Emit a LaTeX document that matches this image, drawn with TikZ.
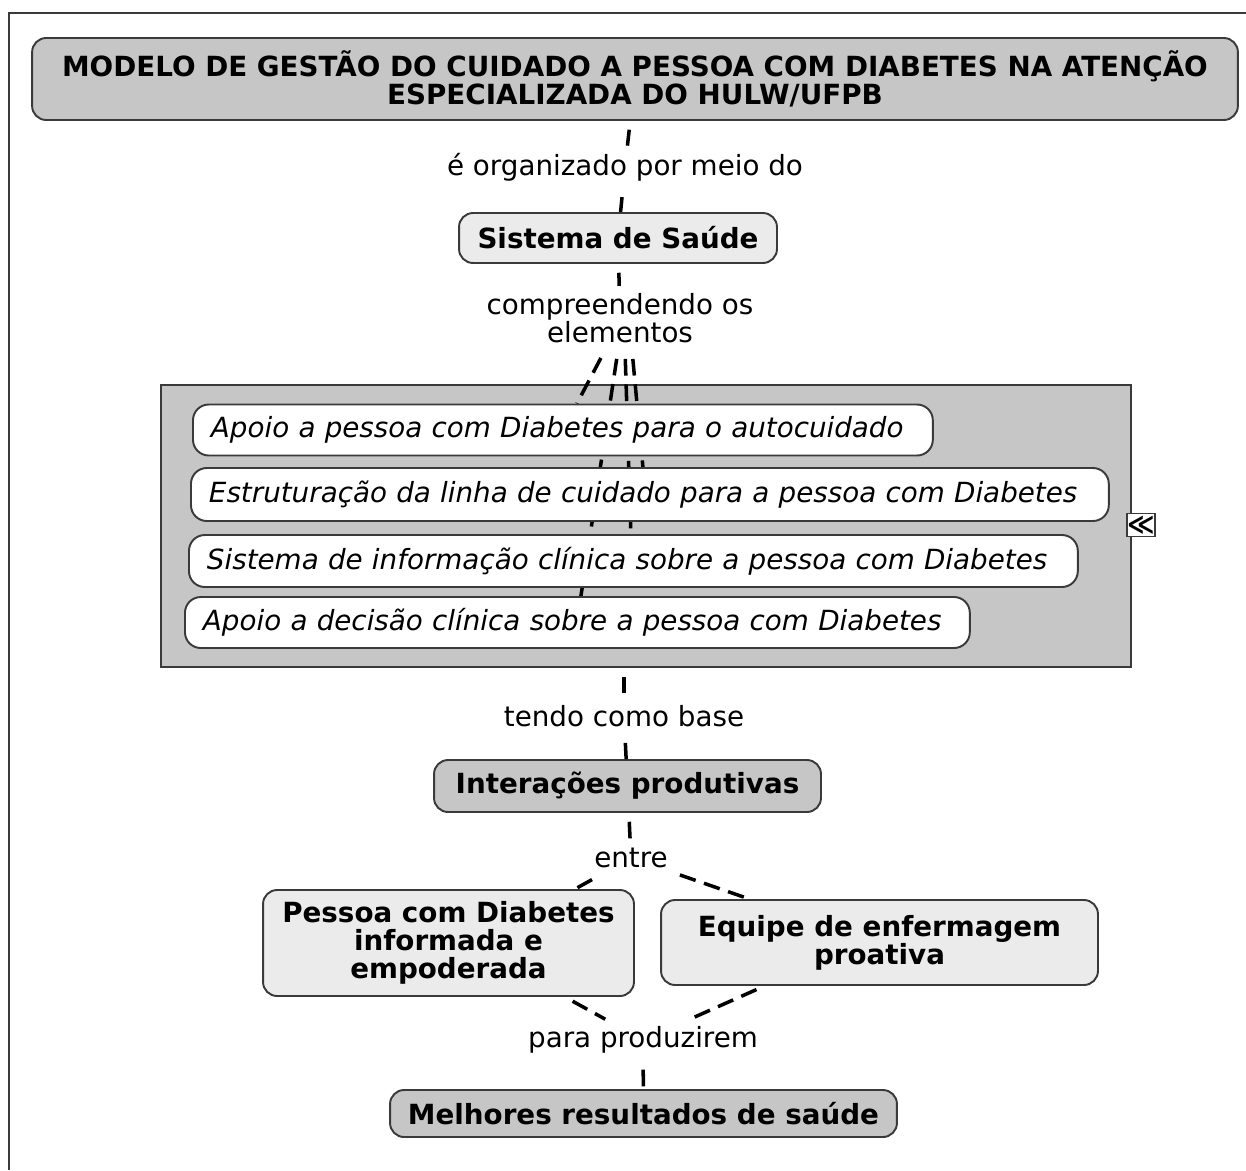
\documentclass[tikz,border=0pt]{standalone}
\usepackage{fontspec}
\setmainfont{DejaVu Sans}
\definecolor{boxGray}{HTML}{C6C6C6}
\definecolor{boxLight}{HTML}{EBEBEB}
\definecolor{lineDark}{HTML}{3A3A3A}
\newcommand{\mapfont}{\fontsize{15.8pt}{16pt}\selectfont}
\pgfdeclarelayer{back}
\pgfdeclarelayer{middle}
\pgfsetlayers{back,middle,main}

\begin{document}
\begin{tikzpicture}[x=0.02cm, y=-0.02cm,
    concept/.style={draw=lineDark, line width=1.1pt, rounded corners=8pt, fill=boxLight,
                    align=center, font=\mapfont\bfseries, inner sep=2pt},
    darkconcept/.style={concept, fill=boxGray},
    item/.style={draw=lineDark, line width=1.1pt, rounded corners=9pt, fill=white,
                 align=left, anchor=west, inner xsep=0.36cm, inner ysep=0pt,
                 font=\mapfont\itshape},
    link/.style={line width=2pt, dash pattern=on 9.5pt off 5pt, dash phase=9.5pt},
    linklabel/.style={align=center, inner xsep=2pt, inner ysep=4pt, font=\mapfont},
]
\useasboundingbox (0,0) rectangle (1246,1170);
\draw[lineDark, line width=1pt] (9,1170) -- (9,13) -- (1246,13);

% main concepts
\node[darkconcept, minimum width=24.12cm, minimum height=1.64cm] (title) at (635,79)
    {MODELO DE GESTÃO DO CUIDADO A PESSOA COM DIABETES NA ATENÇÃO\\ESPECIALIZADA DO HULW/UFPB};
\node[concept, minimum width=6.36cm, minimum height=1.0cm] (sis) at (618,238) {Sistema de Saúde};

% container of the elements
\begin{pgfonlayer}{back}
\node[draw=lineDark, line width=1.1pt, fill=boxGray, minimum width=19.4cm,
      minimum height=5.64cm, inner sep=0pt] (cont) at (646,526) {};
\end{pgfonlayer}

% linking phrases
\node[linklabel] (lab1) at (625,167) {é organizado por meio do};
\node[linklabel] (lab2) at (620,318) {compreendendo os\\elementos};
\node[linklabel] (lab3) at (624,716) {tendo como base};
\node[linklabel] (lab4) at (631,858) {entre};
\node[linklabel] (lab5) at (643,1040) {para produzirem};

\node[item, minimum width=14.8cm, text width=14.08cm, minimum height=1.02cm] (in1) at (192,430)
    {Apoio a pessoa com Diabetes para o autocuidado};
\node[item, minimum width=18.36cm, text width=17.64cm, minimum height=1.06cm] (in2) at (190,494.5)
    {Estruturação da linha de cuidado para a pessoa com Diabetes};
\node[item, minimum width=17.78cm, text width=17.06cm, minimum height=1.04cm] (in3) at (188,561)
    {Sistema de informação clínica sobre a pessoa com Diabetes};
\node[item, minimum width=15.7cm, text width=14.98cm, minimum height=1.02cm] (in4) at (184,622.5)
    {Apoio a decisão clínica sobre a pessoa com Diabetes};

% fan of links, under the items
\begin{pgfonlayer}{middle}
\draw[link] ([xshift=-0.3cm]lab2.south) -- ([xshift=7.7cm]in1.north west);
\draw[link] ([xshift=-0.04cm]lab2.south) -- ([xshift=7.94cm]in4.north west);
\draw[link] ([xshift=0.1cm]lab2.south) -- ([xshift=8.86cm]in3.north west);
\draw[link] ([xshift=0.24cm]lab2.south) -- ([xshift=9.06cm]in2.north west);
\end{pgfonlayer}

\node[draw=lineDark, fill=white, line width=0.9pt, minimum width=0.56cm, minimum height=0.46cm,
      inner sep=0pt, font=\fontsize{15pt}{15pt}\selectfont\bfseries] (toggle) at (1141,525) {≪};

\node[darkconcept, minimum width=7.74cm, minimum height=1.04cm] (inter) at (627.5,786) {Interações produtivas};
\node[concept, minimum width=7.42cm, minimum height=2.12cm] (pes) at (448.5,943)
    {Pessoa com Diabetes\\informada e\\empoderada};
\node[concept, minimum width=8.74cm, minimum height=1.7cm] (equ) at (879.5,942.5)
    {Equipe de enfermagem\\proativa};
\node[darkconcept, minimum width=10.14cm, minimum height=0.94cm] (best) at (643.5,1113.5)
    {Melhores resultados de saúde};

% links
\draw[link] (title) -- (lab1);
\draw[link] (lab1) -- (sis);
\draw[link] (sis) -- (lab2);
\draw[link] (lab3 |- cont.south) -- (lab3);
\draw[link] (lab3) -- (inter);
\draw[link] (inter) -- (lab4);
\draw[link] (lab4) -- ([xshift=-1.2cm]pes.north east);
\draw[link] (lab4) -- ([xshift=-2.6cm]equ.north);
\draw[link] ([xshift=-1.4cm]pes.south east) -- (lab5);
\draw[link] ([xshift=-2.3cm]equ.south) -- (lab5);
\draw[link] (lab5) -- (best);
\end{tikzpicture}
\end{document}
